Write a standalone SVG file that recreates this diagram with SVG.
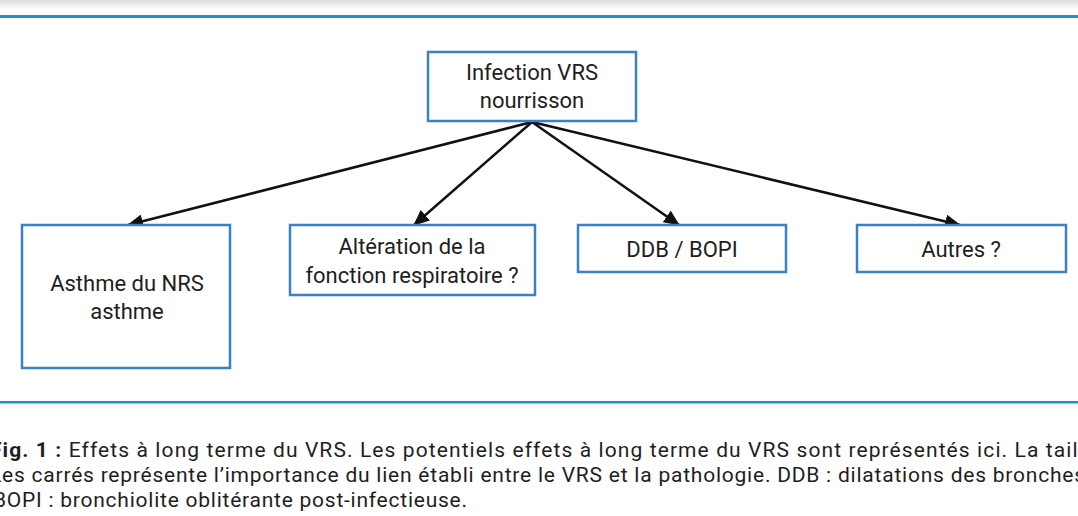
<svg xmlns="http://www.w3.org/2000/svg" width="1078" height="516" viewBox="0 0 1078 516">
<style>
.box{fill:#ffffff;stroke:#3b7fc4;stroke-width:2.5}
.t{font-family:Roboto,"Liberation Sans",sans-serif;font-size:22px;fill:#1e1e1e;text-anchor:middle}
.cap{font-family:Roboto,"Liberation Sans",sans-serif;font-size:21px;fill:#1e1e1e}
.conn{stroke:#111;stroke-width:2.5;fill:none;marker-end:url(#ah)}
</style>
<defs>
<linearGradient id="topg" x1="0" y1="0" x2="0" y2="1">
<stop offset="0" stop-color="#dcdcdc"/>
<stop offset="1" stop-color="#ffffff"/>
</linearGradient>
<marker id="ah" markerUnits="userSpaceOnUse" markerWidth="16" markerHeight="14" viewBox="0 0 16 14" refX="15" refY="7" orient="auto">
<path d="M0,0 L16,7 L0,14 Z" fill="#111"/>
</marker>
</defs>
<rect width="1078" height="516" fill="#ffffff"/>
<rect x="0" y="0" width="1078" height="10" fill="url(#topg)"/>
<rect x="0" y="15" width="1078" height="3" fill="#1d8fd3"/>
<rect x="0" y="401" width="1078" height="2.5" fill="#1d8fd3"/>

<g id="connectors">
<line class="conn" x1="532" y1="122" x2="128" y2="225"/>
<line class="conn" x1="532" y1="122" x2="414" y2="225"/>
<line class="conn" x1="532" y1="122" x2="679" y2="225"/>
<line class="conn" x1="532" y1="122" x2="960" y2="225"/>
</g>

<g id="node-infection">
<rect class="box" x="428" y="52" width="208" height="69"/>
<text class="t" x="532" y="80">Infection VRS</text>
<text class="t" x="532" y="108">nourrisson</text>
</g>
<g id="node-asthme">
<rect class="box" x="22" y="225" width="208" height="143"/>
<text class="t" x="127" y="291">Asthme du NRS</text>
<text class="t" x="127" y="319">asthme</text>
</g>
<g id="node-alteration">
<rect class="box" x="290" y="225" width="245" height="70"/>
<text class="t" x="412" y="254">Altération de la</text>
<text class="t" x="412" y="283">fonction respiratoire ?</text>
</g>
<g id="node-ddb">
<rect class="box" x="578" y="225" width="208" height="47"/>
<text class="t" x="682" y="257">DDB / BOPI</text>
</g>
<g id="node-autres">
<rect class="box" x="857" y="225" width="209" height="47"/>
<text class="t" x="961" y="257">Autres ?</text>
</g>

<g id="caption">
<text class="cap" x="-10" y="457" textLength="1106" lengthAdjust="spacing"><tspan font-weight="bold">Fig. 1 :</tspan> Effets à long terme du VRS. Les potentiels effets à long terme du VRS sont représentés ici. La taille</text>
<text class="cap" x="-10" y="482" textLength="1095" lengthAdjust="spacing">Les carrés représente l’importance du lien établi entre le VRS et la pathologie. DDB : dilatations des bronches</text>
<text class="cap" x="-7" y="507" textLength="474" lengthAdjust="spacing">BOPI : bronchiolite oblitérante post-infectieuse.</text>
</g>
</svg>
